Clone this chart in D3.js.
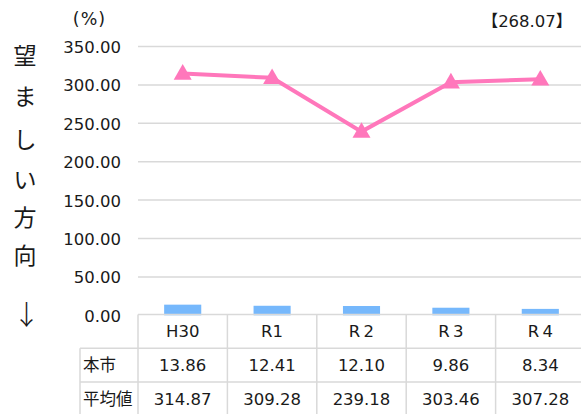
<!DOCTYPE html>
<html><head><meta charset="utf-8">
<script src="https://cdn.jsdelivr.net/npm/d3@7"></script>
<style>body{margin:0;background:#fff}svg{display:block}text{font-family:"DejaVu Sans","Noto Sans CJK JP",sans-serif;fill:#1a1a1a}</style>
</head><body><svg id="c" width="581" height="414"></svg>
<script>
const categories = ["H30", "R1", "R\u20092", "R\u20093", "R\u20094"];
const cityValues = [13.86, 12.41, 12.10, 9.86, 8.34];
const avgValues = [314.87, 309.28, 239.18, 303.46, 307.28];
const yTicks = [0, 50, 100, 150, 200, 250, 300, 350];
const rowLabels = ["本市", "平均値"];
const titleChars = ["望", "ま", "し", "い", "方", "向"];
const arrowChar = "↓";
const unitLabel = "(%)";
const refLabel = "【268.07】";

const svg = d3.select("#c");
const left = 138, step = 89.4, right = left + step * categories.length;
const x = d3.scaleBand().domain(categories).range([left, right]).paddingInner(0.585).paddingOuter(0.2925);
const xc = d3.scalePoint().domain(categories).range([left + step/2, right - step/2]);
const y = d3.scaleLinear().domain([0, 350]).range([315.3, 46.5]);
const font = "16.5px";
const grid = "#d9d9d9";
const cjk = "'Noto Sans CJK JP',sans-serif";

svg.append("g").selectAll("line").data(yTicks.filter(d => d > 0)).join("line")
  .attr("x1", left).attr("x2", 581).attr("y1", d => y(d)).attr("y2", d => y(d))
  .attr("stroke", grid).attr("stroke-width", 1.5);

const yAxis = d3.axisLeft(y).tickValues(yTicks).tickFormat(d3.format(".2f")).tickSize(0).tickPadding(0);
const ga = svg.append("g").attr("transform", `translate(121,0)`).call(yAxis);
ga.select(".domain").remove();
ga.selectAll("text").attr("font-size", font).attr("font-family", null).attr("fill", "#1a1a1a").attr("dy", "0.36em");

svg.append("g").selectAll("rect").data(cityValues).join("rect")
  .attr("x", (d, i) => x(categories[i])).attr("width", x.bandwidth())
  .attr("y", d => y(d)).attr("height", d => y(0) - y(d)).attr("fill", "#76b8fc");

const line = d3.line().x((d, i) => xc(categories[i])).y(d => y(d));
svg.append("path").datum(avgValues).attr("d", line).attr("fill", "none")
  .attr("stroke", "#ff77bb").attr("stroke-width", 4);
const tri = d3.symbol().type(d3.symbolTriangle).size(140);
svg.append("g").selectAll("path").data(avgValues).join("path")
  .attr("transform", (d, i) => `translate(${xc(categories[i])},${y(d) + 1})`)
  .attr("d", tri).attr("fill", "#ff77bb");

const rowTop = 314.5, rowH = 33.8, labelLeft = 80;
const tg = svg.append("g");
tg.append("line").attr("x1", left).attr("x2", 581).attr("y1", rowTop).attr("y2", rowTop).attr("stroke", grid).attr("stroke-width", 1.5);
[1, 2, 3].forEach(r => {
  tg.append("line").attr("x1", labelLeft).attr("x2", 581).attr("y1", rowTop + r * rowH).attr("y2", rowTop + r * rowH).attr("stroke", grid).attr("stroke-width", 1.5);
});
tg.append("line").attr("x1", labelLeft).attr("x2", labelLeft).attr("y1", rowTop + rowH).attr("y2", 414).attr("stroke", grid).attr("stroke-width", 1.5);
d3.range(categories.length + 1).forEach(i => {
  const xx = left + i * step;
  tg.append("line").attr("x1", xx).attr("x2", xx).attr("y1", rowTop).attr("y2", 414).attr("stroke", grid).attr("stroke-width", 1.5);
});
tg.selectAll("text.h").data(categories).join("text").attr("class", "h")
  .attr("x", d => xc(d)).attr("y", rowTop + rowH / 2).attr("dy", "0.36em")
  .attr("text-anchor", "middle").attr("font-size", font).text(d => d);
[cityValues, avgValues].forEach((vals, r) => {
  const yy = rowTop + (r + 1) * rowH + rowH / 2;
  tg.append("text").attr("x", 83).attr("y", yy).attr("dy", "0.36em").attr("font-size", font)
    .style("font-family", cjk).text(rowLabels[r]);
  tg.selectAll(null).data(vals).join("text")
    .attr("x", (d, i) => xc(categories[i])).attr("y", yy).attr("dy", "0.36em")
    .attr("text-anchor", "middle").attr("font-size", font).text(d => d.toFixed(2));
});

svg.append("text").attr("x", 89.5).attr("y", 18.5).attr("dy", "0.36em").attr("text-anchor", "middle")
  .attr("font-size", "17.5px").attr("letter-spacing", "1px").text(unitLabel);
svg.append("text").attr("x", 527).attr("y", 21).attr("dy", "0.36em").attr("text-anchor", "middle")
  .attr("font-size", "16.5px").text(refLabel);
const tyPos = [56, 97, 140, 180, 218, 256];
svg.append("g").selectAll("text").data(titleChars).join("text")
  .attr("x", 25).attr("y", (d, i) => tyPos[i]).attr("dy", "0.36em").attr("text-anchor", "middle")
  .attr("font-size", "23px").style("font-family", cjk).text(d => d);
svg.append("text").attr("x", 26.5).attr("y", 315).attr("dy", "0.36em").attr("text-anchor", "middle")
  .attr("font-size", "27px").style("font-family", cjk).style("font-weight", "300").text(arrowChar);
</script></body></html>
